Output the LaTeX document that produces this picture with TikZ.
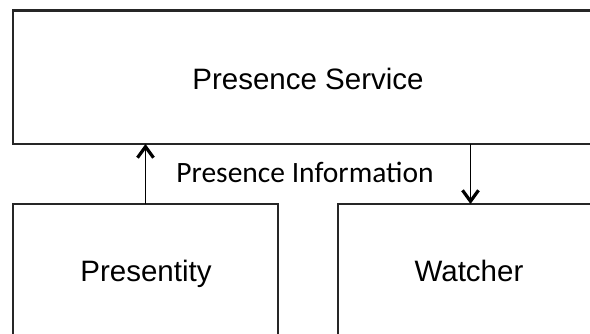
\documentclass[tikz,border=0pt]{standalone}
\usepackage{fontspec}
\setmainfont{Liberation Sans}
\newfontfamily\labelfont{Carlito}
\usetikzlibrary{arrows.meta}
\begin{document}
\begin{tikzpicture}[x=1pt,y=-1pt,
  box/.style={draw=black!85,line width=2.2pt,inner sep=0pt,outer sep=0pt},
  boxtext/.style={anchor=base,inner sep=0pt,font=\fontsize{29.5}{34}\selectfont},
  flowtext/.style={anchor=base,inner sep=0pt,font=\labelfont\fontsize{29.5}{34}\selectfont},
  flow/.style={line width=1.6pt,-{Straight Barb[length=11pt,width=16pt,line width=3.2pt]}}]
\useasboundingbox (0,0) rectangle (590,334);
\clip (0,0) rectangle (590,334);
% boxes
\node[box,minimum width=590pt,minimum height=133.5pt] (service) at (308,77.25) {};
\node[box,minimum width=265pt,minimum height=140pt] (presentity) at (145.5,274) {};
\node[box,minimum width=265pt,minimum height=140pt] (watcher) at (470.5,274) {};
% box captions
\node[boxtext] (servicetext) at (308,90) {Presence Service};
\node[boxtext] (presentitytext) at (146,282) {Presentity};
\node[boxtext] (watchertext) at (469,282) {Watcher};
% information flow
\draw[flow] (presentity.north) -- (presentity.north |- service.south);
\draw[flow] (watcher.north |- service.south) -- (watcher.north);
\node[flowtext] (info) at (305,183) {Presence Information};
\end{tikzpicture}
\end{document}
